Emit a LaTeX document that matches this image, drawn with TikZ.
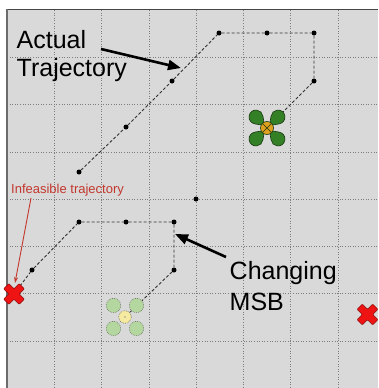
\documentclass[tikz,border=0pt]{standalone}
\usepackage{fontspec}
\setmainfont{Liberation Sans}
\usetikzlibrary{arrows.meta}
\definecolor{bg}{RGB}{217,217,217}
\definecolor{gridc}{RGB}{125,125,125}
\definecolor{trajc}{RGB}{50,50,50}
\definecolor{lobeg}{RGB}{52,128,38}
\definecolor{lobeo}{RGB}{25,55,18}
\definecolor{hubc}{RGB}{222,160,30}
\definecolor{ghostg}{RGB}{180,215,160}
\definecolor{ghosty}{RGB}{246,234,160}
\definecolor{ghosto}{RGB}{110,120,100}
\definecolor{xred}{RGB}{238,20,20}
\definecolor{xdark}{RGB}{140,10,10}
\definecolor{infc}{RGB}{195,55,45}
\begin{document}
\begin{tikzpicture}[x=1pt,y=-1pt,
  dot/.style={circle,fill=black,inner sep=0pt,minimum size=5pt},
  traj/.style={draw=trajc,line width=0.9pt,dash pattern=on 3pt off 2pt},
  gridline/.style={draw=gridc,line width=0.8pt,dash pattern=on 1pt off 1.6pt},
  bigarrow/.style={line width=2.6pt,-{Triangle[length=13pt,width=10pt]}},
  bigtext/.style={font=\fontsize{25}{30}\selectfont,anchor=base west,inner sep=0pt},
  drone/.pic={
    \foreach \sx/\sy in {1/1,1/-1,-1/1,-1/-1}
      \path[fill=lobeg,draw=lobeo,line width=0.6pt,xscale=\sx,yscale=\sy]
        (2.5,2.5) -- (11.83,4.05) arc[start angle=-83.2,end angle=173.2,radius=7] -- cycle;
    \path[fill=hubc,draw=lobeo,line width=0.6pt] (0,0) circle[radius=6.5];
    \draw[lobeo,line width=0.6pt] (-4.5,-4.5) -- (4.5,4.5) (-4.5,4.5) -- (4.5,-4.5);
  },
  ghost/.pic={
    \foreach \sx/\sy in {1/1,1/-1,-1/1,-1/-1}
      \path[fill=ghostg,draw=ghosto,line width=0.6pt,dash pattern=on 0.8pt off 1pt]
        (\sx*11.5,\sy*11.5) circle[radius=7.2];
    \path[fill=ghosty,draw=ghosto,line width=0.6pt,dash pattern=on 0.8pt off 1pt] (0,0) circle[radius=6.3];
    \fill[ghosto!70] (0,0) circle[radius=0.8];
  },
  redx/.pic={
    \path[fill=xred,draw=xdark,line width=0.6pt,rotate=45,rounded corners=0.8pt]
      (3.7,3.7) -- (3.7,11) -- (-3.7,11) -- (-3.7,3.7) -- (-11,3.7) -- (-11,-3.7)
      -- (-3.7,-3.7) -- (-3.7,-11) -- (3.7,-11) -- (3.7,-3.7) -- (11,-3.7) -- (11,3.7) -- cycle;
  }
]
\useasboundingbox (0,0) rectangle (378,388);
% background
\fill[bg] (6,9) rectangle (378,388);
% grid
\foreach \k in {1,...,7} {
  \draw[gridline] ({7+47.3*\k},10) -- ({7+47.3*\k},388);
  \draw[gridline] (7,{10+47.3*\k}) -- (378,{10+47.3*\k});
}
\draw[gray!55!black,line width=1pt] (6,9.5) -- (378,9.5);
\draw[gray!85!black,line width=1.6pt] (6.8,9) -- (6.8,388);
% trajectory 1
\node[dot] (a1) at (79,172) {};
\node[dot] (a2) at (126,127) {};
\node[dot] (a3) at (172,81) {};
\node[dot] (a4) at (219,33) {};
\node[dot] (a5) at (267,33) {};
\node[dot] (a6) at (314,33) {};
\node[dot] (a7) at (314,81) {};
\coordinate (d1) at (267,128);
\draw[traj] (a1) -- (a2) -- (a3) -- (a4) -- (a5) -- (a6) -- (a7) -- (d1);
% lone dot
\node[dot] (c1) at (196,199) {};
% trajectory 2
\coordinate (x1) at (14,294);
\node[dot] (b1) at (32,270) {};
\node[dot] (b2) at (79,222) {};
\node[dot] (b3) at (126,222) {};
\node[dot] (b4) at (174,222) {};
\node[dot] (b5) at (174,270) {};
\coordinate (g1) at (125,317);
\draw[traj] (x1) -- (b1) -- (b2) -- (b3) -- (b4) -- (b5) -- (g1);
% drones
\pic at (d1) {drone};
\pic at (g1) {ghost};
% crosses
\pic at (x1) {redx};
\coordinate (x2) at (367.5,314.5);
\pic at (x2) {redx};
% texts
\node[bigtext] (t1) at (16.5,48) {Actual};
\node[bigtext] (t2) at (16.5,76) {Trajectory};
\node[bigtext] (t3) at (229.5,279) {Changing};
\node[bigtext] (t4) at (229.5,310) {MSB};
\node[font=\fontsize{13}{15}\selectfont,text=infc,anchor=base west,inner sep=0pt] (t5) at (11,193) {Infeasible trajectory};
% arrows
\coordinate (p1) at (101,49);
\coordinate (p2) at (181,68);
\draw[bigarrow] (p1) -- (p2);
\coordinate (q1) at (226,257);
\coordinate (q2) at (175,234);
\draw[bigarrow] (q1) -- (q2);
\coordinate (r1) at (31,198);
\coordinate (r2) at (15,283);
\draw[infc,line width=0.9pt,-{Stealth[length=6pt,width=4pt]}] (r1) -- (r2);
\end{tikzpicture}
\end{document}
